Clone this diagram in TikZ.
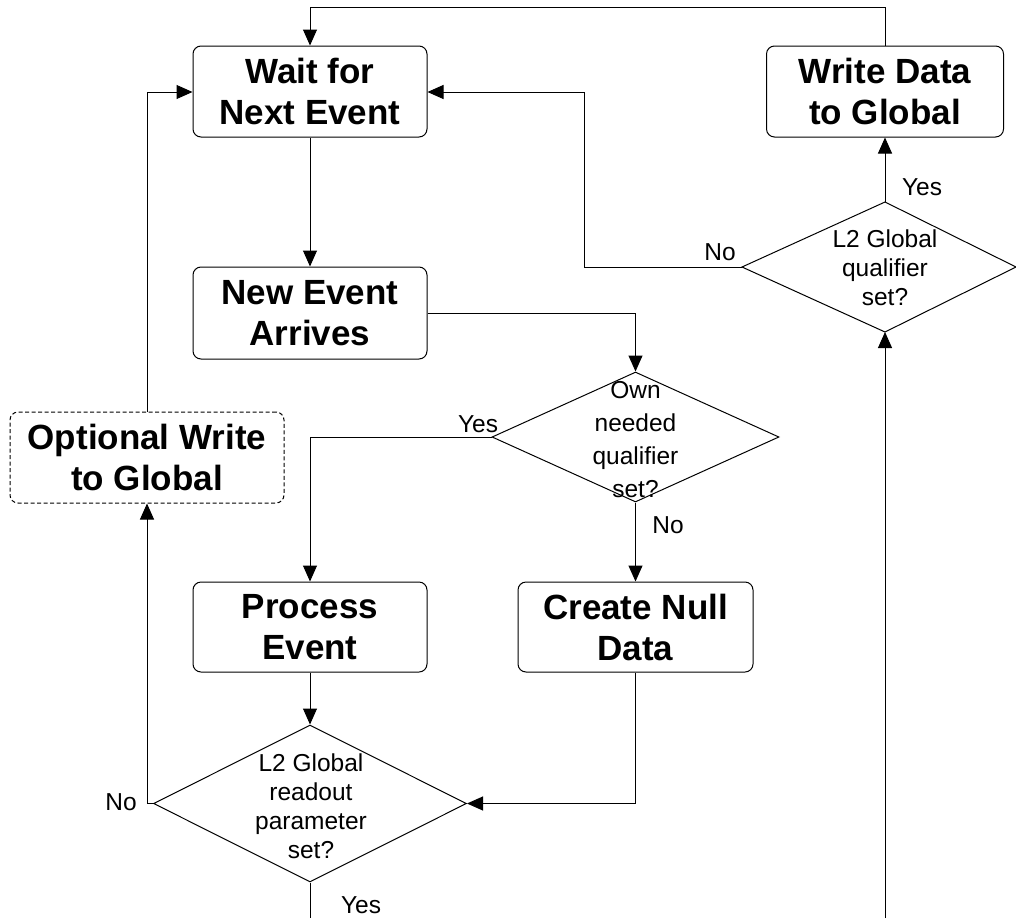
\documentclass[tikz,border=0pt]{standalone}
\usepackage{fontspec}
\setmainfont{Liberation Sans}
\usetikzlibrary{arrows.meta,shapes.geometric}
\tikzset{
  box/.style={draw, line width=1pt, rounded corners=8pt, rectangle, inner sep=0pt,
    align=center, font=\fontsize{35}{41}\selectfont\bfseries},
  optbox/.style={box, dash pattern=on 4pt off 2.5pt},
  dia/.style={draw, line width=1pt, diamond, inner sep=0pt},
  dtext/.style={align=center, inner sep=0pt, font=\fontsize{24.5}{29}\selectfont},
  lbl/.style={inner sep=0pt, font=\fontsize{24.5}{29}\selectfont},
  conn/.style={line width=1pt, -{Triangle[length=16pt,width=14pt]}},
  plain/.style={line width=1pt}
}
\begin{document}
\begin{tikzpicture}[x=1pt,y=-1pt]
\useasboundingbox (0,0) rectangle (1016,918);
% boxes
\node[box, minimum width=234pt, minimum height=91pt] (wait) at (310,91.5) {Wait for\\Next Event};
\node[box, minimum width=234pt, minimum height=92pt] (newev) at (310,313) {New Event\\Arrives};
\node[box, minimum width=237pt, minimum height=91pt] (write) at (885,91.5) {Write Data\\to Global};
\node[optbox, minimum width=274pt, minimum height=91pt] (opt) at (147,457.5) {Optional Write\\to Global};
\node[box, minimum width=234pt, minimum height=90pt] (proc) at (310,627) {Process\\Event};
\node[box, minimum width=235pt, minimum height=90pt] (null) at (635.5,627) {Create Null\\Data};
% diamonds
\node[dia, minimum width=287pt, minimum height=130pt] (d1) at (635.5,437) {};
\node[dtext, font=\fontsize{24.5}{33}\selectfont] (d1t) at (635.5,440) {Own\\needed\\qualifier\\set?};
\node[dia, minimum width=313pt, minimum height=157pt] (d2) at (310,803.5) {};
\node[dtext] (d2t) at (311,806) {L2 Global\\readout\\parameter\\set?};
\coordinate (d3l) at (742,267);
\coordinate (d3t) at (885,202);
\coordinate (d3r) at (1016,267);
\coordinate (d3b) at (885,332);
\draw[plain] (d3l) -- (d3t) -- (d3r) -- (d3b) -- cycle;
\node[dtext] (d3) at (885,268) {L2 Global\\qualifier\\set?};
% free ends
\coordinate (outL) at (310,918);
\coordinate (inR) at (885,918);
\coordinate (topL) at (310,7);
\coordinate (topR) at (885,7);
% connectors
\draw[conn] (wait.south) -- (newev.north);
\draw[conn] (newev.east |- 0,313) -| (d1.north);
\draw[conn] (d1.west) -| (proc.north);
\draw[conn] (d1.south) -- (null.north);
\draw[conn] (proc.south) -- (d2.north);
\draw[conn] (null.south) |- (d2.east);
\draw[conn] (d2.west) -- (147,803.5) -- (opt.south);
\draw[conn] (opt.north) |- (wait.west |- 0,92);
\draw[plain] (d2.south) -- (outL);
\draw[conn] (inR) -- (d3b);
\draw[conn] (d3t) -- (write.south);
\draw[conn] (d3l) -- (584,267) |- (wait.east |- 0,92);
\draw[conn] (write.north) -- (topR) -- (topL) -- (wait.north);
% labels
\node[lbl, anchor=base] (l1) at (922,195) {Yes};
\node[lbl, anchor=base] (l2) at (720,260) {No};
\node[lbl, anchor=base] (l3) at (478,432) {Yes};
\node[lbl, anchor=base] (l4) at (668,533) {No};
\node[lbl, anchor=base] (l5) at (121,810) {No};
\node[lbl, anchor=base] (l6) at (361,913) {Yes};
\end{tikzpicture}
\end{document}
